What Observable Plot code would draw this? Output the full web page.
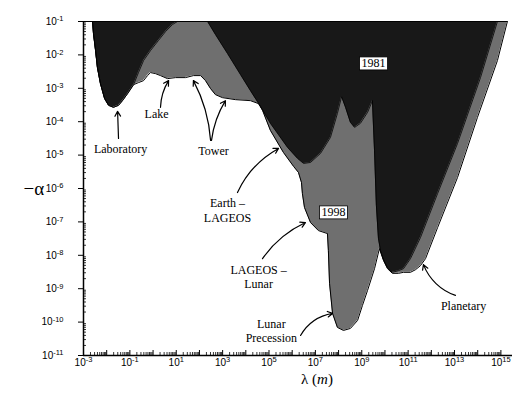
<!DOCTYPE html>
<html><head><meta charset="utf-8">
<script src="https://cdn.jsdelivr.net/npm/d3@7"></script>
<script src="https://cdn.jsdelivr.net/npm/@observablehq/plot@0.6"></script>
<style>body{margin:0;background:#fff}</style>
</head><body>
<script>
// log10 of λ (m) and of −α along the 1981 excluded-region boundary
const lam1981 = [-2.61,-2.57,-2.48,-2.40,-2.27,-2.09,-1.92,-1.71,-1.49,-1.32,-1.10,-0.84,-0.63,-0.41,-0.11,0.23,0.54,0.84,1.05,1.61,2.35,2.69,3.21,3.77,4.20,4.63,5.06,5.80,6.23,6.49,6.79,7.22,7.65,7.95,8.13,8.30,8.51,8.69,8.94,9.25,9.46,9.55,9.63,9.72,9.81,9.94,10.11,10.32,10.58,10.80,11.10,11.53,12.27,13.13,14.12,14.85];
const alpha1981 = [-1,-1.36,-1.87,-2.38,-2.86,-3.31,-3.51,-3.57,-3.51,-3.37,-3.16,-2.89,-2.53,-2.17,-1.87,-1.57,-1.30,-1.09,-1,-1,-1,-1.39,-1.96,-2.59,-3.07,-3.54,-4.05,-4.77,-5.10,-5.25,-5.22,-4.95,-4.47,-3.75,-3.25,-3.57,-4.02,-4.17,-4.05,-3.72,-3.37,-4.86,-6.51,-7.50,-7.86,-8.13,-8.37,-8.51,-8.46,-8.40,-8.10,-7.47,-6.15,-4.65,-2.68,-1];
// 1998 boundary
const lam1998 = [-2.61,-2.57,-2.48,-2.40,-2.27,-2.09,-1.92,-1.71,-1.49,-1.32,-1.10,-0.84,-0.63,-0.41,-0.24,-0.11,0.10,0.32,0.62,0.97,1.40,1.74,2.05,2.26,2.48,2.69,2.99,3.55,4.20,4.55,4.72,5.06,5.62,6.06,6.27,6.40,6.44,6.53,6.79,7.13,7.52,7.56,7.61,7.74,7.95,8.21,8.51,8.82,9.03,9.25,9.55,9.76,9.94,10.11,10.32,10.58,10.80,11.10,11.32,11.53,11.75,12.27,13.13,13.99,14.85,15.28];
const alpha1998 = [-1,-1.36,-1.87,-2.38,-2.86,-3.31,-3.51,-3.57,-3.51,-3.37,-3.16,-2.89,-2.83,-2.77,-2.62,-2.53,-2.56,-2.62,-2.71,-2.68,-2.68,-2.62,-2.62,-2.77,-3.01,-3.19,-3.28,-3.34,-3.37,-3.46,-3.66,-4.26,-4.92,-5.34,-5.52,-5.82,-6.15,-6.57,-7.02,-7.26,-7.35,-7.86,-8.84,-9.74,-10.16,-10.25,-10.19,-9.95,-9.50,-9.05,-8.40,-7.80,-8.16,-8.40,-8.54,-8.54,-8.51,-8.51,-8.43,-8.31,-8.10,-7.17,-5.67,-3.87,-2.17,-1];

const xTickExps = [-3,-1,1,3,5,7,9,11,13,15];
const xDecadeExps = [-3,-2,-1,0,1,2,3,4,5,6,7,8,9,10,11,12,13,14,15];
const yTickExps = [-1,-2,-3,-4,-5,-6,-7,-8,-9,-10,-11];

// annotations (log10 positions)
const noteText = ["Laboratory","Lake","Tower","Earth –\nLAGEOS","LAGEOS –\nLunar","Lunar\nPrecession","Planetary"];
const noteLam  = [-1.40, 0.15, 2.61, 3.21, 4.55, 5.10, 13.39];
const noteAlpha= [-4.80,-3.75,-4.86,-6.64,-8.64,-10.25,-9.50];
const boxText = ["1981","1998"];
const boxLam = [9.51, 7.78];
const boxAlpha = [-2.26, -6.72];
// arrows: from (lam1, a1) to (lam2, a2), bend in degrees
const arrLam1 = [-1.49, 0.32, 2.48, 2.52, 3.64, 4.72, 6.36, 13.04];
const arrA1   = [-4.50,-3.57,-4.56,-4.56,-6.12,-8.10,-10.40,-9.20];
const arrLam2 = [-1.53, 0.67, 1.74, 3.12, 5.41, 6.57, 7.74, 11.66];
const arrA2   = [-3.69,-2.77,-2.77,-3.37,-4.80,-7.02,-9.74,-8.28];
const arrBend = [0, 15, -12, 12, 18, 15, 25, 25];

const p = e => 10 ** e;
const c1981 = lam1981.map((e, i) => ({x: p(e), y: p(alpha1981[i])}));
const c1998 = lam1998.map((e, i) => ({x: p(e), y: p(alpha1998[i])}));
const notes = noteText.map((t, i) => ({text: t, x: p(noteLam[i]), y: p(noteAlpha[i])}));
const boxes = boxText.map((t, i) => ({text: t, x: p(boxLam[i]), y: p(boxAlpha[i])}));
const arrows = arrLam1.map((e, i) => ({x1: p(e), y1: p(arrA1[i]), x2: p(arrLam2[i]), y2: p(arrA2[i]), bend: arrBend[i]}));

const xMinor = d3.range(-3, 15).flatMap(k => d3.range(2, 10).map(m => m * 10 ** k)).filter(v => v < 10 ** 15.5);
const yMinor = d3.range(-11, -1).flatMap(k => d3.range(2, 10).map(m => m * 10 ** k));

const DARK = "#181818", GRAY = "#6f6f6f";
const serif = "Liberation Serif, Times New Roman, serif";

const chart = Plot.plot({
  width: 513, height: 399,
  marginLeft: 83, marginRight: 1, marginTop: 21, marginBottom: 44,
  style: {background: "white", fontFamily: "Liberation Sans, Arial, sans-serif", color: "black"},
  x: {type: "log", domain: [1e-3, 10 ** 15.5]},
  y: {type: "log", domain: [1e-11, 1e-1]},
  marks: [
    Plot.areaY(c1998, {x: "x", y1: 0.1, y2: "y", fill: GRAY}),
    Plot.areaY(c1981, {x: "x", y1: 0.1, y2: "y", fill: DARK}),
    Plot.line(c1998, {x: "x", y: "y", stroke: "black", strokeWidth: 1}),
    Plot.line(c1981, {x: "x", y: "y", stroke: "black", strokeWidth: 0.8}),
    Plot.ruleY([0.1], {x1: 1e-3, x2: 10 ** 15.3, stroke: "black", strokeWidth: 1.2}),
    Plot.ruleY([1e-11], {stroke: "black", strokeWidth: 1.5}),
    Plot.ruleX([1e-3], {stroke: "black", strokeWidth: 1.5}),
    Plot.tickX(xMinor, {x: d => d, insetTop: 331, stroke: "black", strokeWidth: 0.8}),
    Plot.tickX(xDecadeExps.map(p), {x: d => d, insetTop: 329, stroke: "black"}),
    Plot.tickY(yMinor, {y: d => d, insetRight: 426, stroke: "black", strokeWidth: 0.8}),
    Plot.axisY(yTickExps.map(p), {tickSize: 5, tickPadding: 15, fontSize: 10,
      tickFormat: d => String(Math.round(Math.log10(d))), label: null}),
    Plot.axisX(xTickExps.map(p), {tickSize: 0, tickPadding: 3, fontSize: 10,
      tickFormat: d => String(Math.round(Math.log10(d))), label: null}),
    Plot.text(notes, {x: "x", y: "y", text: "text", fontFamily: serif, fontSize: 12, lineHeight: 1.2, fill: "black"}),
    ...arrows.map(a => Plot.arrow([a], {x1: "x1", y1: "y1", x2: "x2", y2: "y2", bend: a.bend, headLength: 7, stroke: "black", strokeWidth: 1.2})),
    Plot.text(boxes, {x: "x", y: "y", text: "text", fontFamily: serif, fontSize: 12, fill: "black", ariaDescription: "boxed"}),
    Plot.text(["−α"], {frameAnchor: "left", dx: -60, fontFamily: serif, fontSize: 19, fill: "black"}),
    Plot.text(["λ (m)"], {frameAnchor: "bottom", dx: 19, dy: 28, fontFamily: serif, fontSize: 15, fill: "black", ariaDescription: "xlabel"})
  ]
});
document.body.appendChild(chart);

const svg = d3.select(chart);
// superscript exponents on tick labels
svg.selectAll('g[aria-label="y-axis tick label"] text, g[aria-label="x-axis tick label"] text').each(function() {
  const t = d3.select(this);
  const e = t.text();
  t.text("");
  t.append("tspan").text("10");
  t.append("tspan").attr("dy", "-0.45em").attr("font-size", "7.5px").text(e);
});
// italic m
svg.selectAll('g[aria-description="xlabel"] text').each(function() {
  const t = d3.select(this);
  t.text("");
  t.append("tspan").text("λ (");
  t.append("tspan").attr("font-style", "italic").text("m");
  t.append("tspan").text(")");
});
// white boxes behind the year labels
svg.selectAll('g[aria-description="boxed"] text').each(function() {
  const bb = this.getBBox();
  const r = document.createElementNS("http://www.w3.org/2000/svg", "rect");
  r.setAttribute("x", bb.x - 2);
  r.setAttribute("y", bb.y + 0.5);
  r.setAttribute("width", bb.width + 4);
  r.setAttribute("height", bb.height - 1);
  r.setAttribute("fill", "white");
  r.setAttribute("stroke", "black");
  r.setAttribute("stroke-width", "0.8");
  const tr = this.getAttribute("transform");
  if (tr) r.setAttribute("transform", tr);
  this.parentNode.insertBefore(r, this);
});
</script>
</body></html>
